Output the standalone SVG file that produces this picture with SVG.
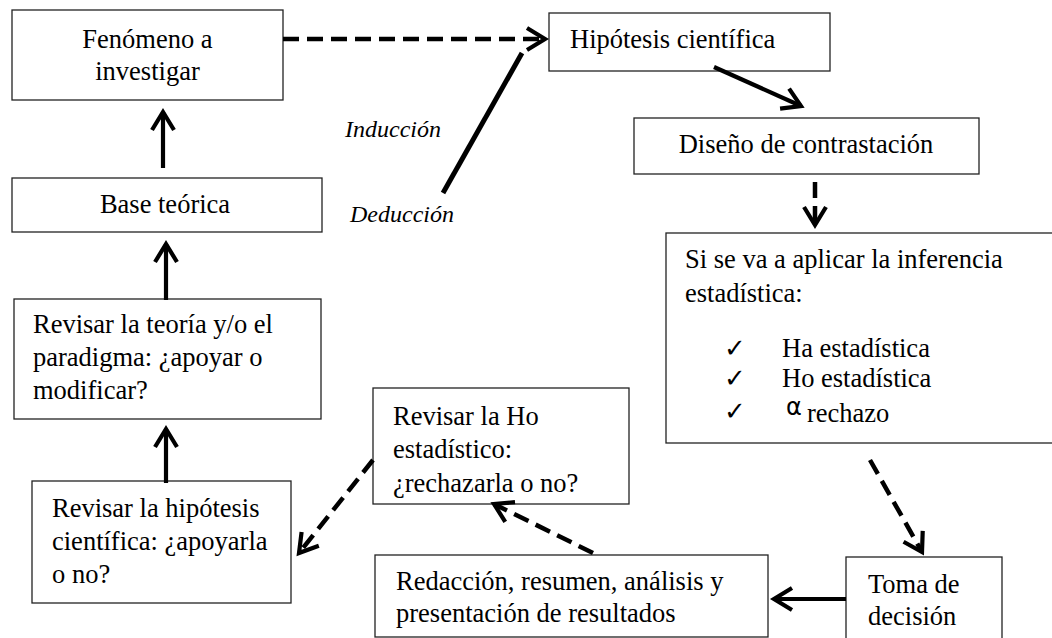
<svg xmlns="http://www.w3.org/2000/svg" width="1052" height="638" viewBox="0 0 1052 638">
<style>
.box{fill:#fff;stroke:#222;stroke-width:1.3}
.t{font-family:"Liberation Serif","Times New Roman",serif;font-size:26.5px;fill:#000}
.c{text-anchor:middle}
.it{font-family:"Liberation Serif","Times New Roman",serif;font-size:24px;font-style:italic;fill:#000}
.chk{font-family:"DejaVu Sans",sans-serif;font-size:26px;fill:#000}
.sym{font-family:"DejaVu Sans",sans-serif;font-size:24px;fill:#000}
.solid{fill:none;stroke:#000;stroke-width:4.2}
.dash{fill:none;stroke:#000;stroke-width:4.5;stroke-dasharray:16 8}
</style>
<defs>
<marker id="ah" markerUnits="userSpaceOnUse" viewBox="-24 -14 28 28" markerWidth="28" markerHeight="28" refX="0" refY="0" orient="auto" overflow="visible">
<path d="M-18,-11 L0,0 L-18,11" fill="none" stroke="#000" stroke-width="4.2" stroke-dasharray="none"/>
</marker>
</defs>
<rect width="1052" height="638" fill="#fff"/>
<g id="fenomeno">
<rect class="box" x="12" y="10" width="271" height="90"/>
<text class="t c" x="147.5" y="48">Fenómeno a</text>
<text class="t c" x="147.5" y="80">investigar</text>
</g>
<g id="hipotesis">
<rect class="box" x="549" y="13" width="281" height="58"/>
<text class="t" x="570" y="48">Hipótesis científica</text>
</g>
<g id="diseno">
<rect class="box" x="634" y="118" width="345" height="56"/>
<text class="t c" x="806" y="153">Diseño de contrastación</text>
</g>
<g id="inferencia">
<rect class="box" x="666" y="233" width="400" height="210"/>
<text class="t" x="685" y="268">Si se va a aplicar la inferencia</text>
<text class="t" x="685" y="302">estadística:</text>
<text class="chk" x="724" y="357">✓</text>
<text class="t" x="782" y="357">Ha estadística</text>
<text class="chk" x="724" y="387">✓</text>
<text class="t" x="782" y="387">Ho estadística</text>
<text class="chk" x="724" y="420">✓</text>
<text class="sym" x="786" y="415">α</text>
<text class="t" x="807" y="422">rechazo</text>
</g>
<g id="base">
<rect class="box" x="12" y="178" width="310" height="54"/>
<text class="t c" x="165" y="213">Base teórica</text>
</g>
<g id="teoria">
<rect class="box" x="14" y="299" width="307" height="120"/>
<text class="t" x="33" y="333">Revisar la teoría y/o el</text>
<text class="t" x="33" y="366">paradigma: ¿apoyar o</text>
<text class="t" x="33" y="399">modificar?</text>
</g>
<g id="revisarHo">
<rect class="box" x="373" y="388" width="256" height="116"/>
<text class="t" x="393" y="425">Revisar la Ho</text>
<text class="t" x="393" y="458">estadístico:</text>
<text class="t" x="393" y="492">¿rechazarla o no?</text>
</g>
<g id="revisarHip">
<rect class="box" x="32" y="481" width="259" height="122"/>
<text class="t" x="52" y="517">Revisar la hipótesis</text>
<text class="t" x="52" y="550">científica: ¿apoyarla</text>
<text class="t" x="52" y="583">o no?</text>
</g>
<g id="redaccion">
<rect class="box" x="375" y="555" width="393" height="82"/>
<text class="t" x="396" y="590">Redacción, resumen, análisis y</text>
<text class="t" x="396" y="622">presentación de resultados</text>
</g>
<g id="toma">
<rect class="box" x="846" y="557" width="156" height="95"/>
<text class="t" x="868" y="593">Toma de</text>
<text class="t" x="868" y="625">decisión</text>
</g>
<g id="labels">
<text class="it" x="345" y="137">Inducción</text>
<text class="it" x="350" y="222">Deducción</text>
</g>
<g id="connectors">
<path class="dash" d="M283,39 L545,39" marker-end="url(#ah)"/>
<path class="solid" d="M443,193 L522,53" style="stroke-width:5"/>
<path class="solid" d="M714,67 L801,106" marker-end="url(#ah)"/>
<path class="dash" d="M815,182 L815,225" marker-end="url(#ah)"/>
<path class="dash" d="M870,460 L922,552" marker-end="url(#ah)"/>
<path class="solid" d="M846,599 L774,599" marker-end="url(#ah)"/>
<path class="dash" d="M593,553 L494,504" marker-end="url(#ah)"/>
<path class="dash" d="M373,460 L299,553" marker-end="url(#ah)"/>
<path class="solid" d="M166,483 L166,429" marker-end="url(#ah)"/>
<path class="solid" d="M166,300 L166,244" marker-end="url(#ah)"/>
<path class="solid" d="M163,168 L163,112" marker-end="url(#ah)"/>
</g>
</svg>
